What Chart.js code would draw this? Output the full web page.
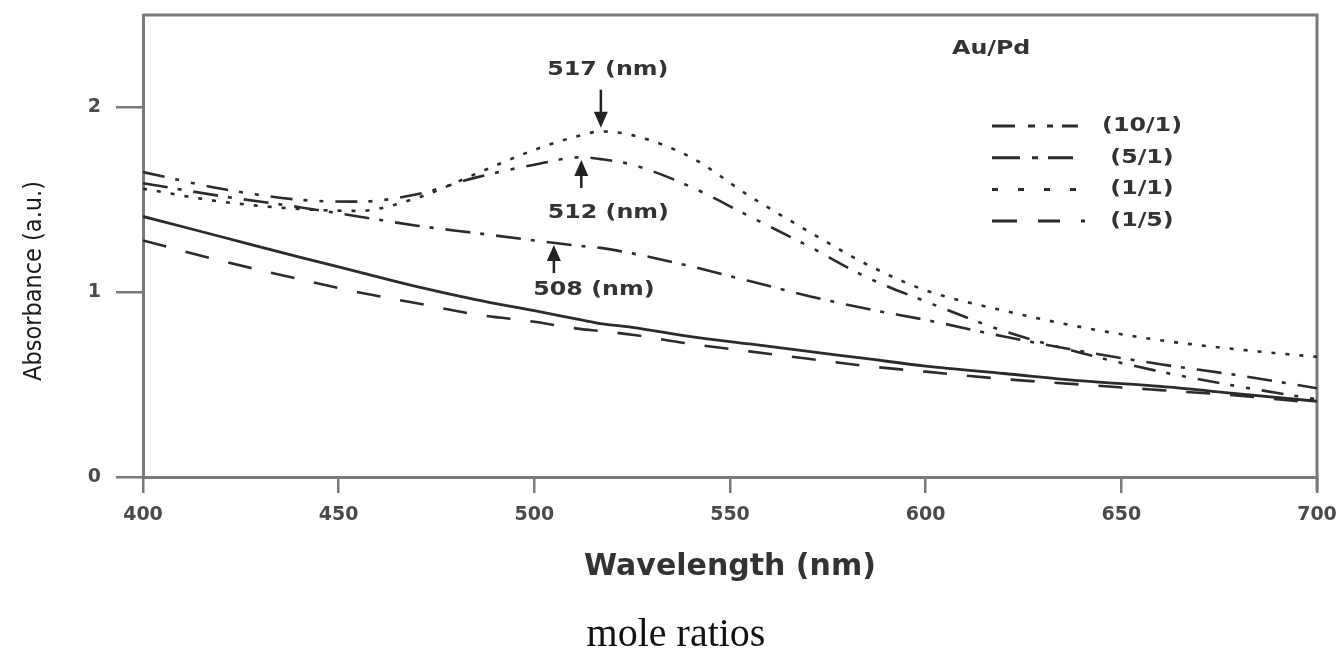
<!DOCTYPE html>
<html>
<head>
<meta charset="utf-8">
<title>Au/Pd absorbance</title>
<script src="https://cdn.jsdelivr.net/npm/chart.js@4.4.0/dist/chart.umd.min.js"></script>
<style>
  html, body { margin: 0; padding: 0; background: #fff; }
  #wrap { width: 1342px; height: 653px; position: relative; }
</style>
</head>
<body>
<div id="wrap"><canvas id="absChart"></canvas></div>
<script>
// wavelength grid (nm) and absorbance readings per mole ratio
const wavelengths = [400, 420, 440, 455, 470, 485, 500, 512, 517, 525, 540, 555, 570, 585, 600, 620, 640, 660, 680, 700];
const ratio10to1 = [1.65, 1.56, 1.50, 1.49, 1.53, 1.62, 1.69, 1.73, 1.72, 1.69, 1.57, 1.41, 1.25, 1.08, 0.95, 0.79, 0.67, 0.57, 0.49, 0.42];
const ratio5to1  = [1.59, 1.52, 1.46, 1.41, 1.36, 1.32, 1.28, 1.25, 1.24, 1.21, 1.14, 1.06, 0.98, 0.91, 0.85, 0.76, 0.68, 0.61, 0.55, 0.48];
const ratio1to1  = [1.56, 1.49, 1.45, 1.44, 1.51, 1.64, 1.77, 1.85, 1.87, 1.85, 1.73, 1.52, 1.33, 1.15, 1.01, 0.90, 0.81, 0.74, 0.69, 0.65];
const ratio1to5  = [1.28, 1.17, 1.07, 1.00, 0.94, 0.88, 0.84, 0.80, 0.79, 0.77, 0.72, 0.68, 0.64, 0.60, 0.57, 0.53, 0.50, 0.47, 0.44, 0.40];
const unlabeled  = [1.41, 1.30, 1.19, 1.11, 1.03, 0.96, 0.90, 0.85, 0.83, 0.81, 0.76, 0.72, 0.68, 0.64, 0.60, 0.56, 0.52, 0.49, 0.45, 0.41];

const seriesLabels = ['(10/1)', '(5/1)', '(1/1)', '(1/5)', ''];
const xTickValues = [400, 450, 500, 550, 600, 650, 700];
const yTickValues = [0, 1, 2];

// peak markers
const peakWavelengths = [517, 512, 505];
const peakLabels = ['517 (nm)', '512 (nm)', '508 (nm)'];
const peakArrowTips = [1.89, 1.715, 1.255];
const peakArrowDirs = ['down', 'up', 'up'];

const ink = '#2b2b2b';
const frameColor = '#7a7a7a';
const textStretch = 1.25;
const boldFont = 'bold 19px "DejaVu Sans", sans-serif';

const toPoints = (vals) => wavelengths.map((w, i) => ({ x: w, y: vals[i] }));

const dashes = [
  [22, 11, 4, 12, 4, 12],
  [25, 10, 4, 12],
  [4, 10],
  [24, 20],
  []
];
const legendDashes = [
  [23, 13, 7, 12, 6, 9],
  [28, 12, 6, 10],
  [6, 20],
  [25, 21, 22, 21, 4, 40]
];
const legendEnds = [1078, 1073, 1078, 1086];

function wideText(ctx, text, x, y) {
  ctx.save();
  ctx.translate(x, y);
  ctx.scale(textStretch, 1);
  ctx.fillText(text, 0, 0);
  ctx.restore();
}

const decorPlugin = {
  id: 'decor',
  beforeDatasetsDraw(chart) {
    const { ctx, chartArea: a } = chart;
    ctx.save();
    ctx.strokeStyle = frameColor;
    ctx.lineWidth = 3;
    ctx.beginPath();
    ctx.moveTo(a.left, a.top);
    ctx.lineTo(a.right, a.top);
    ctx.lineTo(a.right, a.bottom + 14);
    ctx.stroke();
    ctx.restore();
  },
  afterDraw(chart) {
    const { ctx } = chart;
    const xs = chart.scales.x;
    const ys = chart.scales.y;

    // y axis title
    ctx.save();
    ctx.translate(34, 281);
    ctx.rotate(-Math.PI / 2);
    ctx.font = '25px "DejaVu Sans Condensed", "Liberation Sans Narrow", "Liberation Sans", sans-serif';
    ctx.fillStyle = '#1a1a1a';
    ctx.textAlign = 'center';
    ctx.textBaseline = 'middle';
    ctx.fillText('Absorbance (a.u.)', 0, 0);
    ctx.restore();

    // caption under the figure
    ctx.save();
    ctx.font = '40px "Liberation Serif", "DejaVu Serif", serif';
    ctx.fillStyle = '#111';
    ctx.textAlign = 'center';
    ctx.textBaseline = 'middle';
    ctx.fillText('mole ratios', 676, 635);
    ctx.restore();

    ctx.save();
    ctx.font = boldFont;
    ctx.fillStyle = '#333';
    ctx.textBaseline = 'middle';

    // legend
    ctx.textAlign = 'left';
    wideText(ctx, 'Au/Pd', 952, 49);
    ctx.textAlign = 'center';
    ctx.strokeStyle = ink;
    ctx.lineWidth = 3;
    chart.data.datasets.forEach((ds, i) => {
      if (!ds.label) return;
      const y = 126 + i * 31.7;
      ctx.setLineDash(legendDashes[i]);
      ctx.beginPath();
      ctx.moveTo(992, y);
      ctx.lineTo(legendEnds[i], y);
      ctx.stroke();
      wideText(ctx, ds.label, 1142, y);
    });
    ctx.setLineDash([]);

    // peak arrows and labels
    const labelShift = [[7, -58], [27, 53], [40, 45]];
    ctx.fillStyle = '#222';
    ctx.strokeStyle = '#222';
    ctx.lineWidth = 2.5;
    peakWavelengths.forEach((w, i) => {
      const px = xs.getPixelForValue(w);
      const tip = ys.getPixelForValue(peakArrowTips[i]);
      const s = peakArrowDirs[i] === 'down' ? -1 : 1;
      const len = peakArrowDirs[i] === 'down' ? 38 : 28;
      ctx.beginPath();
      ctx.moveTo(px, tip + s * 12);
      ctx.lineTo(px, tip + s * len);
      ctx.stroke();
      ctx.beginPath();
      ctx.moveTo(px, tip);
      ctx.lineTo(px - 7, tip + s * 16);
      ctx.lineTo(px + 7, tip + s * 16);
      ctx.closePath();
      ctx.fill();
      ctx.fillStyle = '#333';
      wideText(ctx, peakLabels[i], px + labelShift[i][0], tip + labelShift[i][1]);
      ctx.fillStyle = '#222';
    });
    ctx.restore();
  }
};

const allSeries = [ratio10to1, ratio5to1, ratio1to1, ratio1to5, unlabeled];

new Chart(document.getElementById('absChart'), {
  type: 'line',
  data: {
    datasets: allSeries.map((vals, i) => ({
      label: seriesLabels[i],
      data: toPoints(vals),
      borderColor: ink,
      borderWidth: i === 4 ? 2.8 : 2.6,
      borderDash: dashes[i],
      pointRadius: 0,
      cubicInterpolationMode: 'monotone',
      fill: false
    }))
  },
  options: {
    responsive: true,
    maintainAspectRatio: false,
    animation: false,
    layout: { padding: { top: 15, right: 25, left: 0, bottom: 0 } },
    plugins: {
      legend: { display: false },
      tooltip: { enabled: false }
    },
    scales: {
      x: {
        type: 'linear',
        min: 400,
        max: 700,
        afterBuildTicks: (scale) => { scale.ticks = xTickValues.map(v => ({ value: v })); },
        afterFit: (scale) => {
          scale.height = 176;
          scale.paddingLeft = 0;
          scale.paddingRight = 0;
        },
        grid: { drawOnChartArea: false, tickLength: 16, color: frameColor, lineWidth: 2.5 },
        border: { color: frameColor, width: 3 },
        ticks: {
          padding: 11,
          maxRotation: 0,
          color: '#4a4a4a',
          font: { family: '"DejaVu Sans", sans-serif', size: 19, weight: 'bold' }
        },
        title: {
          display: true,
          text: 'Wavelength (nm)',
          color: '#333',
          font: { family: '"DejaVu Sans", sans-serif', size: 30, weight: 'bold' },
          padding: { top: 0, bottom: 68 }
        }
      },
      y: {
        min: 0,
        max: 2.5,
        afterBuildTicks: (scale) => { scale.ticks = yTickValues.map(v => ({ value: v })); },
        afterFit: (scale) => {
          scale.width = 143;
          scale.paddingTop = 0;
          scale.paddingBottom = 0;
        },
        grid: { drawOnChartArea: false, tickLength: 27, color: frameColor, lineWidth: 2.5 },
        border: { color: frameColor, width: 3 },
        ticks: {
          padding: 15,
          color: '#4a4a4a',
          font: { family: '"DejaVu Sans", sans-serif', size: 19, weight: 'bold' }
        }
      }
    }
  },
  plugins: [decorPlugin]
});
</script>
</body>
</html>
